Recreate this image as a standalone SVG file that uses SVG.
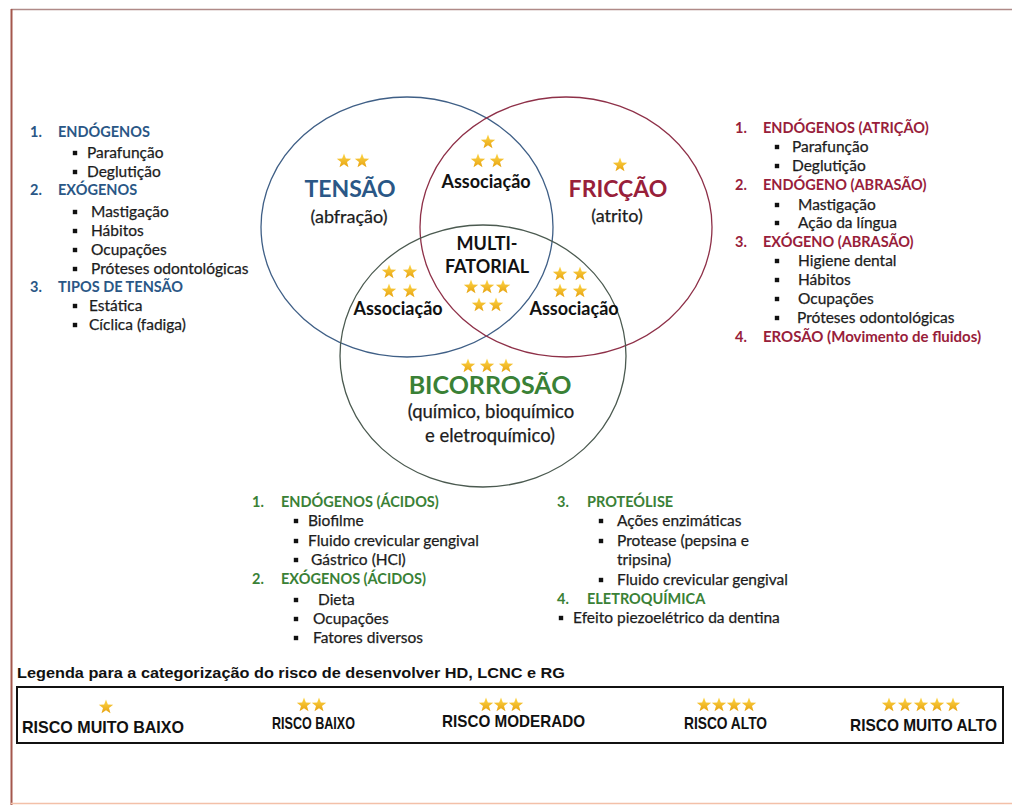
<svg xmlns="http://www.w3.org/2000/svg" xmlns:xlink="http://www.w3.org/1999/xlink" width="1012" height="805" viewBox="0 0 1012 805">
  <style>
    .t { font-family: Lato, "Open Sans", "DejaVu Sans", sans-serif; fill: #1c1c1c; }
    .li { font-size: 15.5px; stroke: #1c1c1c; stroke-width: 0.25; }
    .hd { font-size: 14.5px; font-weight: bold; }
    .blue { fill: #2a5786; }
    .red { fill: #98203a; }
    .green { fill: #3a8136; }
    .num { font-size: 14.5px; font-weight: bold; }
    .big { font-weight: bold; text-anchor: middle; }
    .mid { text-anchor: middle; stroke: #1c1c1c; stroke-width: 0.25; }
    .assoc { font-size: 18px; font-weight: bold; text-anchor: middle; fill: #111; }
    .leg { font-family: "Liberation Sans", Arial, sans-serif; font-weight: bold; fill: #111; }
    .ring { fill: none; stroke-width: 1.3; }
  </style>
  <defs>
    <linearGradient id="gold" x1="0" y1="0" x2="0" y2="1">
      <stop offset="0" stop-color="#ffd84a"/>
      <stop offset="1" stop-color="#e6a210"/>
    </linearGradient>
    <polygon id="star" fill="url(#gold)" points="0,-7.6 1.85,-2.55 7.23,-2.35 3,0.98 4.47,6.15 0,3.15 -4.47,6.15 -3,0.98 -7.23,-2.35 -1.85,-2.55"/>
    <rect id="sq" x="-2.2" y="-2.2" width="4.4" height="4.4" fill="#111"/>
  </defs>

  <rect width="1012" height="805" fill="#ffffff"/>

  <!-- page frame -->
  <g id="frame" fill="none">
    <line x1="11" y1="9.5" x2="1012" y2="9.5" stroke="#b08a88" stroke-width="1.6"/>
    <line x1="11.5" y1="9" x2="11.5" y2="805" stroke="#a4574c" stroke-width="2"/>
    <line x1="11" y1="803.5" x2="1012" y2="803.5" stroke="#f3c0a8" stroke-width="1.5"/>
  </g>

  <!-- Venn rings -->
  <g id="connectors">
    <ellipse class="ring" cx="407" cy="227" rx="146" ry="130" stroke="#3f5f86"/>
    <ellipse class="ring" cx="566" cy="227" rx="146" ry="130" stroke="#8e3048"/>
    <ellipse class="ring" cx="483" cy="356" rx="143" ry="131" stroke="#4b5a50"/>
  </g>

  <!-- TENSÃO -->
  <g id="tensao">
    <use xlink:href="#star" x="344" y="161"/>
    <use xlink:href="#star" x="362" y="161"/>
    <text class="t big blue" x="350" y="197" font-size="23">TENSÃO</text>
    <text class="t mid" x="349" y="223" font-size="18">(abfração)</text>
  </g>

  <!-- FRICÇÃO -->
  <g id="friccao">
    <use xlink:href="#star" x="620" y="165"/>
    <text class="t big red" x="618" y="197" font-size="23">FRICÇÃO</text>
    <text class="t mid" x="617" y="222" font-size="18">(atrito)</text>
  </g>

  <!-- Associação: tensão + fricção -->
  <g id="assoc-top">
    <use xlink:href="#star" x="488" y="142"/>
    <use xlink:href="#star" x="478" y="161"/>
    <use xlink:href="#star" x="497" y="161"/>
    <text class="t assoc" x="486" y="188">Associação</text>
  </g>

  <!-- MULTIFATORIAL -->
  <g id="multifatorial">
    <text class="t assoc" x="487" y="250" font-size="16.5">MULTI-</text>
    <text class="t assoc" x="487" y="273" font-size="16.5">FATORIAL</text>
    <use xlink:href="#star" x="471" y="287"/>
    <use xlink:href="#star" x="487" y="287"/>
    <use xlink:href="#star" x="503" y="287"/>
    <use xlink:href="#star" x="479" y="305"/>
    <use xlink:href="#star" x="496" y="305"/>
  </g>

  <!-- Associação: tensão + biocorrosão -->
  <g id="assoc-left">
    <use xlink:href="#star" x="389" y="272"/>
    <use xlink:href="#star" x="410" y="272"/>
    <use xlink:href="#star" x="389" y="291"/>
    <use xlink:href="#star" x="410" y="291"/>
    <text class="t assoc" x="398" y="315">Associação</text>
  </g>

  <!-- Associação: fricção + biocorrosão -->
  <g id="assoc-right">
    <use xlink:href="#star" x="560" y="274"/>
    <use xlink:href="#star" x="580" y="274"/>
    <use xlink:href="#star" x="560" y="291"/>
    <use xlink:href="#star" x="580" y="291"/>
    <text class="t assoc" x="574" y="315">Associação</text>
  </g>

  <!-- BICORROSÃO -->
  <g id="bicorrosao">
    <use xlink:href="#star" x="468" y="366"/>
    <use xlink:href="#star" x="487" y="366"/>
    <use xlink:href="#star" x="506" y="366"/>
    <text class="t big green" x="490" y="394" font-size="25">BICORROSÃO</text>
    <text class="t mid" x="491" y="418" font-size="18.5">(químico, bioquímico</text>
    <text class="t mid" x="490" y="442" font-size="18.5">e eletroquímico)</text>
  </g>

  <!-- Tensão factors -->
  <g id="list-tensao">
    <text class="t num blue" x="30" y="137">1.</text>
    <text class="t hd blue" x="58" y="137">ENDÓGENOS</text>
    <use xlink:href="#sq" x="75" y="153"/>
    <text class="t li" x="87" y="158">Parafunção</text>
    <use xlink:href="#sq" x="75" y="172"/>
    <text class="t li" x="87" y="177">Deglutição</text>
    <text class="t num blue" x="30" y="195">2.</text>
    <text class="t hd blue" x="58" y="195">EXÓGENOS</text>
    <use xlink:href="#sq" x="75" y="212"/>
    <text class="t li" x="91" y="217">Mastigação</text>
    <use xlink:href="#sq" x="75" y="231"/>
    <text class="t li" x="91" y="236">Hábitos</text>
    <use xlink:href="#sq" x="75" y="250"/>
    <text class="t li" x="91" y="255">Ocupações</text>
    <use xlink:href="#sq" x="75" y="269"/>
    <text class="t li" x="91" y="274">Próteses odontológicas</text>
    <text class="t num blue" x="30" y="292">3.</text>
    <text class="t hd blue" x="58" y="292">TIPOS DE TENSÃO</text>
    <use xlink:href="#sq" x="75" y="306"/>
    <text class="t li" x="89" y="311">Estática</text>
    <use xlink:href="#sq" x="75" y="325"/>
    <text class="t li" x="89" y="330">Cíclica (fadiga)</text>
  </g>

  <!-- Fricção factors -->
  <g id="list-friccao">
    <text class="t num red" x="735" y="133">1.</text>
    <text class="t hd red" x="763" y="133">ENDÓGENOS (ATRIÇÃO)</text>
    <use xlink:href="#sq" x="777" y="147"/>
    <text class="t li" x="792" y="152">Parafunção</text>
    <use xlink:href="#sq" x="777" y="166"/>
    <text class="t li" x="792" y="171">Deglutição</text>
    <text class="t num red" x="735" y="190">2.</text>
    <text class="t hd red" x="763" y="190">ENDÓGENO (ABRASÃO)</text>
    <use xlink:href="#sq" x="777" y="205"/>
    <text class="t li" x="798" y="210">Mastigação</text>
    <use xlink:href="#sq" x="777" y="223"/>
    <text class="t li" x="798" y="228">Ação da língua</text>
    <text class="t num red" x="735" y="247">3.</text>
    <text class="t hd red" x="763" y="247">EXÓGENO (ABRASÃO)</text>
    <use xlink:href="#sq" x="777" y="261"/>
    <text class="t li" x="798" y="266">Higiene dental</text>
    <use xlink:href="#sq" x="777" y="280"/>
    <text class="t li" x="798" y="285">Hábitos</text>
    <use xlink:href="#sq" x="777" y="299"/>
    <text class="t li" x="798" y="304">Ocupações</text>
    <use xlink:href="#sq" x="777" y="318"/>
    <text class="t li" x="797" y="323">Próteses odontológicas</text>
    <text class="t num red" x="735" y="342">4.</text>
    <text class="t red" x="763" y="342" font-size="15" font-weight="bold">EROSÃO (Movimento de fluidos)</text>
  </g>

  <!-- Biocorrosão factors: acids -->
  <g id="list-acidos">
    <text class="t num green" x="252" y="507">1.</text>
    <text class="t hd green" x="281" y="507">ENDÓGENOS (ÁCIDOS)</text>
    <use xlink:href="#sq" x="296" y="521"/>
    <text class="t li" x="308" y="526">Biofilme</text>
    <use xlink:href="#sq" x="296" y="541"/>
    <text class="t li" x="308" y="546">Fluido crevicular gengival</text>
    <use xlink:href="#sq" x="296" y="560"/>
    <text class="t li" x="311" y="565">Gástrico (HCl)</text>
    <text class="t num green" x="252" y="584">2.</text>
    <text class="t hd green" x="281" y="584">EXÓGENOS (ÁCIDOS)</text>
    <use xlink:href="#sq" x="296" y="600"/>
    <text class="t li" x="318" y="605">Dieta</text>
    <use xlink:href="#sq" x="296" y="619"/>
    <text class="t li" x="313" y="624">Ocupações</text>
    <use xlink:href="#sq" x="296" y="638"/>
    <text class="t li" x="313" y="643">Fatores diversos</text>
  </g>

  <!-- Biocorrosão factors: proteolysis and electrochemistry -->
  <g id="list-proteolise">
    <text class="t num green" x="557" y="507">3.</text>
    <text class="t hd green" x="587" y="507">PROTEÓLISE</text>
    <use xlink:href="#sq" x="601" y="521"/>
    <text class="t li" x="617" y="526">Ações enzimáticas</text>
    <use xlink:href="#sq" x="601" y="541"/>
    <text class="t li" x="617" y="546">Protease (pepsina e</text>
    <text class="t li" x="617" y="565">tripsina)</text>
    <use xlink:href="#sq" x="601" y="580"/>
    <text class="t li" x="617" y="585">Fluido crevicular gengival</text>
    <text class="t num green" x="557" y="604">4.</text>
    <text class="t hd green" x="587" y="604">ELETROQUÍMICA</text>
    <use xlink:href="#sq" x="561" y="618"/>
    <text class="t li" x="573" y="623">Efeito piezoelétrico da dentina</text>
  </g>

  <!-- risk legend -->
  <g id="legend">
    <text class="leg" x="17" y="678" font-size="15" textLength="548" lengthAdjust="spacingAndGlyphs">Legenda para a categorização do risco de desenvolver HD, LCNC e RG</text>
    <rect x="17" y="687" width="986" height="56" fill="none" stroke="#111" stroke-width="2"/>
    <use xlink:href="#star" x="106" y="707"/>
    <text class="leg" x="22" y="733" font-size="17" textLength="162" lengthAdjust="spacingAndGlyphs">RISCO MUITO BAIXO</text>
    <use xlink:href="#star" x="304" y="705"/>
    <use xlink:href="#star" x="319" y="705"/>
    <text class="leg" x="272" y="729" font-size="17" textLength="83" lengthAdjust="spacingAndGlyphs">RISCO BAIXO</text>
    <use xlink:href="#star" x="486" y="705"/>
    <use xlink:href="#star" x="501" y="705"/>
    <use xlink:href="#star" x="516" y="705"/>
    <text class="leg" x="442" y="727" font-size="17" textLength="143" lengthAdjust="spacingAndGlyphs">RISCO MODERADO</text>
    <use xlink:href="#star" x="704" y="705"/>
    <use xlink:href="#star" x="719" y="705"/>
    <use xlink:href="#star" x="734" y="705"/>
    <use xlink:href="#star" x="749" y="705"/>
    <text class="leg" x="684" y="729" font-size="17" textLength="83" lengthAdjust="spacingAndGlyphs">RISCO ALTO</text>
    <use xlink:href="#star" x="889" y="705"/>
    <use xlink:href="#star" x="905" y="705"/>
    <use xlink:href="#star" x="921" y="705"/>
    <use xlink:href="#star" x="937" y="705"/>
    <use xlink:href="#star" x="953" y="705"/>
    <text class="leg" x="850" y="731" font-size="17" textLength="147" lengthAdjust="spacingAndGlyphs">RISCO MUITO ALTO</text>
  </g>
</svg>
